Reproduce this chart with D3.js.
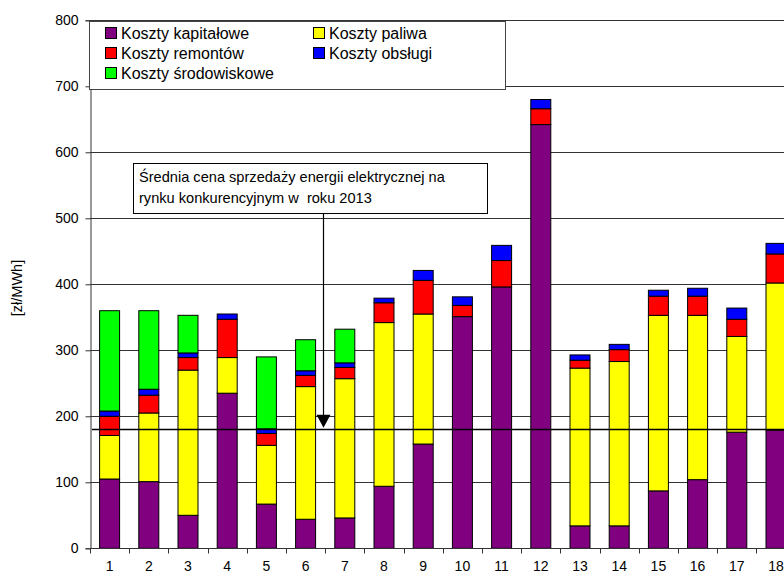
<!DOCTYPE html>
<html><head><meta charset="utf-8">
<script src="https://cdn.jsdelivr.net/npm/d3@7"></script>
<style>body{margin:0;background:#fff}svg{display:block;font-family:Arial,"Liberation Sans",sans-serif}</style>
</head><body>
<svg id="c" width="784" height="575"></svg>
<script>
const categories = ["1","2","3","4","5","6","7","8","9","10","11","12","13","14","15","16","17","18"];
const seriesNames = ["Koszty kapitałowe","Koszty paliwa","Koszty remontów","Koszty obsługi","Koszty środowiskowe"];
const seriesColors = ["#800080","#FFFF00","#FF0000","#0000FF","#00FF00"];
const kapitalowe  = [105,101,50,235,67,44,46,94,158,351,396,642,34,34,87,104,176,179];
const paliwa      = [66,104,220,54,89,201,211,248,197,0,0,0,239,249,266,249,145,223];
const remontow    = [29,27,19,58,18,17,17,30,51,17,40,24,12,18,29,29,26,44];
const obslugi     = [8,9,7,8,7,7,7,7,15,13,23,14,8,8,9,12,17,16];
const srodowiskowe= [152,119,57,0,109,47,51,0,0,0,0,0,0,0,0,0,0,0];
const yTicks = [0,100,200,300,400,500,600,700,800];
const avgPrice = 181;
const yLabel = "[zł/MWh]";
const annotationLines = ["Średnia cena sprzedaży energii elektrycznej na","rynku konkurencyjnym w  roku 2013"];

const series = [kapitalowe, paliwa, remontow, obslugi, srodowiskowe];
const svg = d3.select("#c");
const plotLeft = 90, plotTop = 20.3, plotBottom = 548.3, step = 39.2;
const x = d3.scaleBand().domain(categories).range([plotLeft, plotLeft + step*categories.length]).paddingInner(0.49).paddingOuter(0.245);
const y = d3.scaleLinear().domain([0,800]).range([plotBottom, plotTop]);

// gridlines
svg.append("g").selectAll("line").data(yTicks.filter(d=>d>0)).join("line")
  .attr("x1", plotLeft).attr("x2", 784).attr("y1", d=>Math.round(y(d))+0.5).attr("y2", d=>Math.round(y(d))+0.5)
  .attr("stroke", "#333").attr("stroke-width", 1);

// stacked bars
const rows = categories.map((c,i)=>{const o={cat:c}; seriesNames.forEach((s,j)=>o[s]=series[j][i]); return o;});
const stack = d3.stack().keys(seriesNames)(rows);
svg.append("g").selectAll("g").data(stack).join("g").attr("fill",(d,i)=>seriesColors[i])
  .selectAll("rect").data(d=>d.filter(v=>v[1]-v[0]>0)).join("rect")
  .attr("x", d=>x(d.data.cat)).attr("width", x.bandwidth())
  .attr("y", d=>y(d[1])).attr("height", d=>y(d[0])-y(d[1]))
  .attr("stroke","#000").attr("stroke-width",1);

// y axis
const ya = svg.append("g").attr("transform",`translate(${plotLeft+0.5},0)`)
  .call(d3.axisLeft(y).tickValues(yTicks).tickSize(5).tickPadding(7).tickFormat(d3.format("d")));
ya.select(".domain").attr("stroke","#333");
ya.selectAll(".tick line").attr("stroke","#333");
ya.selectAll("text").attr("font-size",14).attr("font-family","Arial, 'Liberation Sans', sans-serif").attr("fill","#000");

// x axis
const xa = svg.append("g").attr("transform",`translate(0,${Math.round(plotBottom)+0.5})`);
xa.append("line").attr("x1",plotLeft).attr("x2",784).attr("stroke","#333");
const bounds = d3.range(categories.length+1).map(i=>x.range()[0]+i*x.step());
xa.selectAll("line.t").data(bounds).join("line").attr("class","t")
  .attr("x1",d=>Math.round(d)+0.5).attr("x2",d=>Math.round(d)+0.5).attr("y1",0).attr("y2",5).attr("stroke","#333");
xa.selectAll("text").data(categories).join("text")
  .attr("x",d=>x(d)+x.bandwidth()/2).attr("y",22.5).attr("text-anchor","middle").attr("font-size",14).text(d=>d);

// y label
svg.append("text").attr("transform","translate(22,288) rotate(-90)").attr("text-anchor","middle")
  .attr("font-size",14.5).text(yLabel);

// average price line
svg.append("line").attr("x1",92).attr("x2",784).attr("y1",Math.round(y(avgPrice))+0.5).attr("y2",Math.round(y(avgPrice))+0.5)
  .attr("stroke","#000").attr("stroke-width",1.3);

// annotation box
svg.append("rect").attr("x",133.5).attr("y",163.5).attr("width",354).attr("height",50).attr("fill","#fff").attr("stroke","#000");
svg.append("g").selectAll("text").data(annotationLines).join("text")
  .attr("x",139).attr("y",(d,i)=>182+i*21).attr("font-size",14.6).style("white-space","pre").text(d=>d);
// arrow
const ax = 323.5, tipY = y(avgPrice) - 1;
svg.append("line").attr("x1",ax).attr("x2",ax).attr("y1",213.5).attr("y2",tipY-12).attr("stroke","#000").attr("stroke-width",1.2);
svg.append("path").attr("d",`M${ax-7},${tipY-13}L${ax+7},${tipY-13}L${ax},${tipY}Z`).attr("fill","#000");

// legend
const lg = svg.append("g");
lg.append("rect").attr("x",89.5).attr("y",21.5).attr("width",416).attr("height",68).attr("fill","#fff").attr("stroke","#444");
const legPos = [[105,33],[313,33],[105,53],[313,53],[105,73]];
seriesNames.forEach((name,k)=>{
  const [lx,ly] = legPos[k];
  lg.append("rect").attr("x",lx+0.5).attr("y",ly-5.5).attr("width",11).attr("height",11).attr("fill",seriesColors[k]).attr("stroke","#000");
  lg.append("text").attr("x",lx+16).attr("y",ly+5.5).attr("font-size",16).text(name);
});
</script>
</body></html>
